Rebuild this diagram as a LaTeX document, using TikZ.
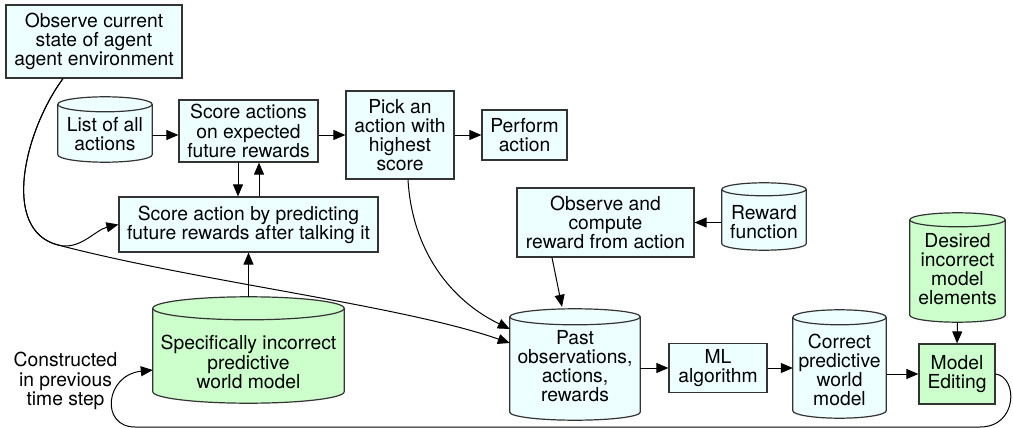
\documentclass[tikz,border=0pt]{standalone}
\usepackage{fontspec}
\setmainfont{TeX Gyre Heros}
\usetikzlibrary{arrows.meta,calc,backgrounds}
\definecolor{cyanfill}{HTML}{EEFFFF}
\definecolor{greenfill}{HTML}{CCFFCC}
\definecolor{bord}{HTML}{333333}
\newcommand\mytext{\fontsize{19.3}{19.2}\selectfont}
\newcommand\mycyl[3]{%
  \draw[cylb, fill=#2] let \p1=(#1.north west), \p2=(#1.south east) in
    (\x1,\y1-#3) -- (\x1,\y2+#3)
    arc[start angle=180, end angle=360, x radius={(\x2-\x1)/2}, y radius=#3]
    -- (\x2,\y1-#3)
    arc[start angle=0, end angle=180, x radius={(\x2-\x1)/2}, y radius=#3]
    -- cycle;
  \draw[cylb] let \p1=(#1.north west), \p2=(#1.south east) in
    (\x1,\y1-#3) arc[start angle=180, end angle=360, x radius={(\x2-\x1)/2}, y radius=#3];
}
\tikzset{
  box/.style={draw=bord, line width=1.2pt, fill=cyanfill, align=center, inner sep=0pt, font=\mytext},
  gbox/.style={box, fill=greenfill},
  cylnode/.style={inner sep=0pt},
  txt/.style={align=center, inner sep=0pt, font=\mytext},
  cylb/.style={draw=bord, line width=1.2pt},
  arr/.style={-{Triangle[length=12pt,width=10pt]}, line width=1pt, draw=black},
}
\begin{document}
\begin{tikzpicture}[x=1pt,y=1pt]
\useasboundingbox (0,0) rectangle (1013,-428);
% boxes
\node[box, minimum width=176pt, minimum height=73pt] (obs) at (94,-41.5) {Observe current\\state of agent\\agent environment};
\node[box, minimum width=139pt, minimum height=62pt] (sae) at (248.5,-131) {Score actions\\on expected\\future rewards};
\node[box, minimum width=108pt, minimum height=88pt] (pick) at (400,-135) {Pick an\\action with\\highest\\score};
\node[box, minimum width=85pt, minimum height=50pt] (perf) at (524.5,-135) {Perform\\action};
\node[box, minimum width=259pt, minimum height=55pt] (pred) at (248.5,-224.5) {Score action by predicting\\future rewards after talking it};
\node[box, minimum width=177pt, minimum height=69pt] (ocr) at (605.5,-222.5) {Observe and\\compute\\reward from action};
\node[box, minimum width=98pt, minimum height=49pt] (ml) at (718,-368) {ML\\algorithm};
\node[gbox, minimum width=76pt, minimum height=60pt] (med) at (957,-374) {Model\\Editing};
% cylinder frames
\node[cylnode, minimum width=94pt, minimum height=65pt] (list) at (105,-129.5) {};
\node[cylnode, minimum width=84pt, minimum height=67pt] (rew) at (764,-216.5) {};
\node[cylnode, minimum width=95pt, minimum height=109pt] (des) at (957.5,-267.5) {};
\node[cylnode, minimum width=130pt, minimum height=111pt] (past) at (575,-364.5) {};
\node[cylnode, minimum width=93pt, minimum height=108pt] (cor) at (839.5,-364) {};
\node[cylnode, minimum width=191pt, minimum height=106pt] (spec) at (248.5,-350) {};
\begin{pgfonlayer}{background}
\mycyl{list}{cyanfill}{7.5pt}
\mycyl{rew}{cyanfill}{6.5pt}
\mycyl{des}{greenfill}{7pt}
\mycyl{past}{cyanfill}{8pt}
\mycyl{cor}{cyanfill}{7.5pt}
\mycyl{spec}{greenfill}{11.5pt}
\end{pgfonlayer}
% cylinder texts
\node[txt] (listT) at (105,-134) {List of all\\actions};
\node[txt] (rewT) at (764,-222.5) {Reward\\function};
\node[txt] (desT) at (957.5,-269) {Desired\\incorrect\\model\\elements};
\node[txt] (pastT) at (575,-366) {Past\\observations,\\actions,\\rewards};
\node[txt] (corT) at (839.5,-370) {Correct\\predictive\\world\\model};
\node[txt] (specT) at (248.5,-362) {Specifically incorrect\\predictive\\world model};
\node[txt] (cons) at (65.5,-381) {Constructed\\in previous\\time step};
% connectors
\draw[arr] (list.east |- pick.west) -- (sae.west |- pick.west);
\draw[arr] (sae.east |- pick.west) -- (pick.west);
\draw[arr] (pick.east) -- (perf.west);
\draw[arr] ([xshift=-10.5pt]sae.south) -- ([xshift=-10.5pt]sae.south |- pred.north);
\draw[arr] ([xshift=10.5pt]pred.north) -- ([xshift=10.5pt]pred.north |- sae.south);
\draw[arr] (spec.north) -- (pred.south);
\draw[arr] ([xshift=-31pt]obs.south) .. controls (25,-130) and (0,-230) .. (58,-245)
  .. controls (80,-250.7) and (95,-230) .. (pred.west);
\draw[arr] ([xshift=-31pt]obs.south) .. controls (25,-130) and (0,-230) .. (58,-245)
  .. controls (200,-282) and (400,-305) .. ([yshift=21.5pt]past.west);
\draw[arr] ([xshift=8pt]pick.south) .. controls (412,-250) and (450,-300) .. ([yshift=35.5pt]past.west);
\draw[arr] (rew.west |- ocr.east) -- (ocr.east);
\draw[arr] ([xshift=-53.5pt]ocr.south) -- ([xshift=-13pt,yshift=2pt]past.north);
\draw[arr] (past.east |- ml.west) -- (ml.west);
\draw[arr] (ml.east) -- (ml.east -| cor.west);
\draw[arr] (cor.east |- med.west) -- (med.west);
\draw[arr] (des.south) -- (med.north);
\draw[arr] (med.east) .. controls (1018,-377) and (1018,-427) .. (980,-427) -- (135,-427)
  .. controls (100,-427) and (105,-375) .. ([yshift=-20pt]spec.west);
\end{tikzpicture}
\end{document}
